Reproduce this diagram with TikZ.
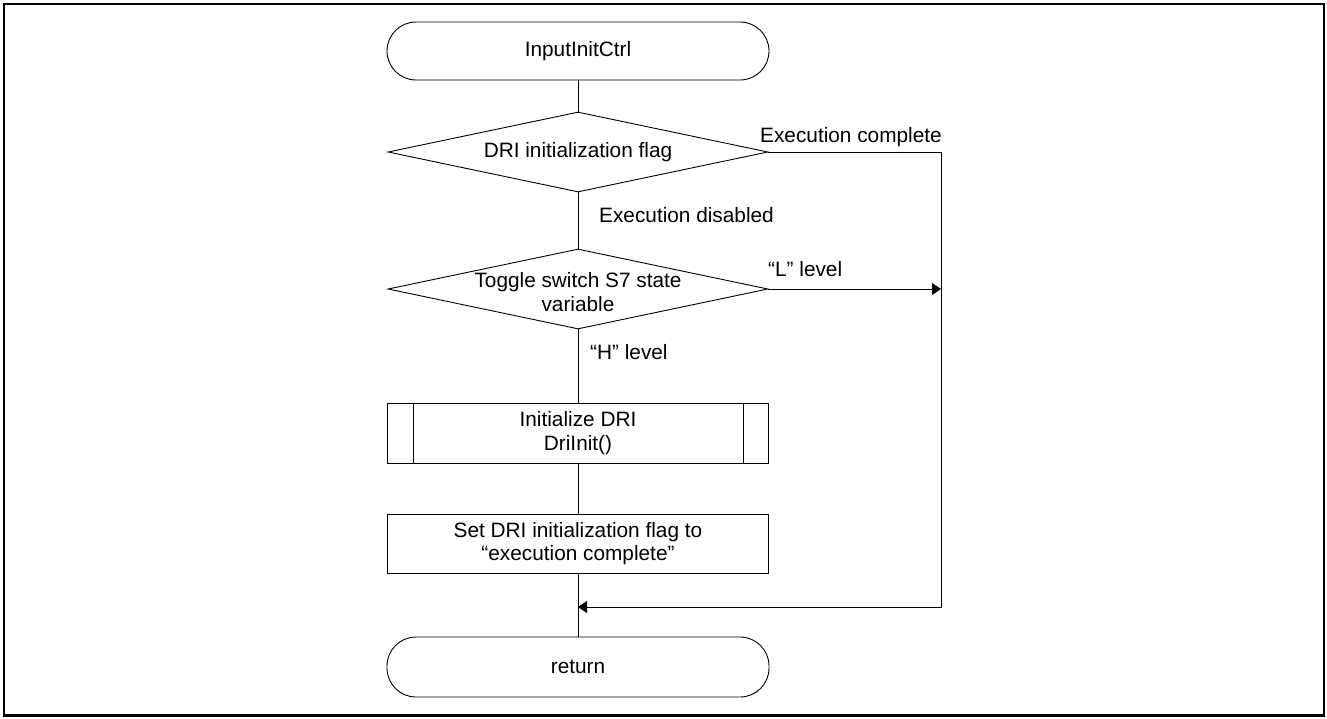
\documentclass[tikz,border=0pt]{standalone}
\usepackage{fontspec}
\setmainfont{Liberation Sans}
\usetikzlibrary{shapes.geometric,arrows.meta}

\begin{document}
\begin{tikzpicture}[x=1pt,y=-1pt,
  every node/.style={font=\fontsize{20.8}{23.5}\selectfont},
  line/.style={draw=black,line width=0.9pt},
  flow/.style={line,-{Triangle[length=9pt,width=12pt]}},
  term/.style={line,rectangle,rounded corners=29pt,minimum width=382pt,minimum height=58pt,inner sep=0pt},
  decision/.style={line,diamond,minimum width=380pt,minimum height=80pt,inner sep=0pt},
  proc/.style={line,rectangle,minimum width=381pt,minimum height=60pt,inner sep=0pt,align=center},
  branchlabel/.style={anchor=base west,inner sep=0pt}
]
% page size and outer frame
\useasboundingbox (0,0) rectangle (1327,718);
\draw[line width=2.4pt] (4,4) rectangle (1324,715.5);

% flowchart nodes
\node[term] (start) at (578,51) {InputInitCtrl};
\node[decision,label={[align=center,inner sep=0pt]center:DRI initialization flag}] (flag) at (578,152) {};
\node[decision,label={[align=center,inner sep=0pt,yshift=-3pt]center:Toggle switch S7 state\\variable}] (sw) at (578,289) {};
\node[proc] (init) at (578,433) {Initialize DRI\\DriInit()};
\draw[line] ([xshift=26pt]init.north west) -- ([xshift=26pt]init.south west);
\draw[line] ([xshift=-26pt]init.north east) -- ([xshift=-26pt]init.south east);
\node[proc,minimum height=59pt] (setflag) at (578,543.5) {Set DRI initialization flag to\\“execution complete”};
\node[term,minimum height=60pt] (ret) at (578,667) {return};

% bypass route coordinates
\coordinate (bypassTop) at (941,152);
\coordinate (bypassMid) at (941,289);
\coordinate (bypassBot) at (941,607);
\coordinate (merge) at (578,607);

% connectors
\draw[line] (start.south) -- (flag.north);
\draw[line] (flag.south) -- (sw.north);
\draw[line] (sw.south) -- (init.north);
\draw[line] (init.south) -- (setflag.north);
\draw[line] (setflag.south) -- (ret.north);
\draw[flow] (flag.east) -- (bypassTop) -- (bypassBot) -- (merge);
\draw[flow] (sw.east) -- (bypassMid);

% branch labels
\node[branchlabel] (lblComplete) at (760,142) {Execution complete};
\node[branchlabel] (lblDisabled) at (599,222) {Execution disabled};
\node[branchlabel] (lblL) at (768,276) {“L” level};
\node[branchlabel] (lblH) at (590,359) {“H” level};
\end{tikzpicture}
\end{document}
